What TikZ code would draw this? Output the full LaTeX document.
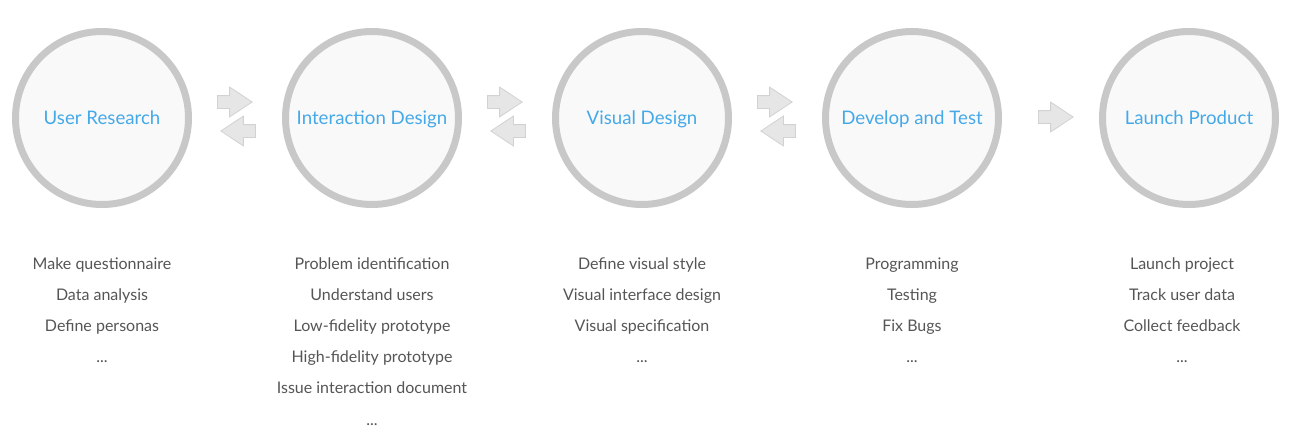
\documentclass[tikz,border=0pt]{standalone}
\usepackage{fontspec}
\setmainfont{Lato}
\usetikzlibrary{shapes.arrows}

\definecolor{ringgray}{HTML}{C8C8C8}
\definecolor{ringfill}{HTML}{F9F9F9}
\definecolor{titleblue}{HTML}{45A9E8}
\definecolor{itemgray}{HTML}{555555}
\definecolor{arrowfill}{HTML}{E6E6E6}
\definecolor{arrowline}{HTML}{D2D2D2}

\tikzset{
  stage/.style={circle, draw=ringgray, fill=ringfill, line width=5.25pt,
    minimum size=129.75pt, inner sep=0pt, text=titleblue,
    text height=10pt, text depth=0pt,
    font=\fontsize{14}{16}\selectfont},
  item/.style={text=itemgray, inner sep=0pt, anchor=base,
    font=\fontsize{12}{14}\selectfont},
  flow/.style={single arrow, draw=arrowline, fill=arrowfill, line width=0.6pt,
    minimum height=26pt, inner xsep=0pt, inner ysep=4.5pt,
    single arrow head extend=6.4pt, single arrow tip angle=67,
    single arrow head indent=0pt},
}

\begin{document}
\begin{tikzpicture}[x=0.75pt,y=-0.75pt]
      \useasboundingbox (0,0) rectangle (1300,439);

      %% stages
      \node[stage] (research) at (102,118) {User Research};
      \node[stage] (interaction) at (372,118) {Interaction Design};
      \node[stage] (visual) at (642,118) {Visual Design};
      \node[stage] (develop) at (912,118) {Develop and Test};
      \node[stage] (launch) at (1189,118) {Launch Product};

      %% arrows between stages
      \node[flow] (fwd1) at (230,102) {};
      \node[flow, shape border rotate=180] (back1) at (243,131) {};
      \node[flow] (fwd2) at (500,102) {};
      \node[flow, shape border rotate=180] (back2) at (513,131) {};
      \node[flow] (fwd3) at (770,102) {};
      \node[flow, shape border rotate=180] (back3) at (783,131) {};
      \node[flow] (fwd4) at (1051,117) {};

      %% tasks of each stage
      % user research
      \node[item] (r1) at (102,269) {Make questionnaire};
      \node[item] (r2) at (102,300) {Data analysis};
      \node[item] (r3) at (102,331) {Define personas};
      \node[item] (r4) at (102,362) {...};

      % interaction design
      \node[item] (i1) at (372,269) {Problem identification};
      \node[item] (i2) at (372,300) {Understand users};
      \node[item] (i3) at (372,331) {Low-fidelity prototype};
      \node[item] (i4) at (372,362) {High-fidelity prototype};
      \node[item] (i5) at (372,393) {Issue interaction document};
      \node[item] (i6) at (372,425) {...};

      % visual design
      \node[item] (v1) at (642,269) {Define visual style};
      \node[item] (v2) at (642,300) {Visual interface design};
      \node[item] (v3) at (642,331) {Visual specification};
      \node[item] (v4) at (642,362) {...};

      % develop and test
      \node[item] (d1) at (912,269) {Programming};
      \node[item] (d2) at (912,300) {Testing};
      \node[item] (d3) at (912,331) {Fix Bugs};
      \node[item] (d4) at (912,362) {...};

      % launch product
      \node[item] (l1) at (1182,269) {Launch project};
      \node[item] (l2) at (1182,300) {Track user data};
      \node[item] (l3) at (1182,331) {Collect feedback};
      \node[item] (l4) at (1182,362) {...};

\end{tikzpicture}
\end{document}
